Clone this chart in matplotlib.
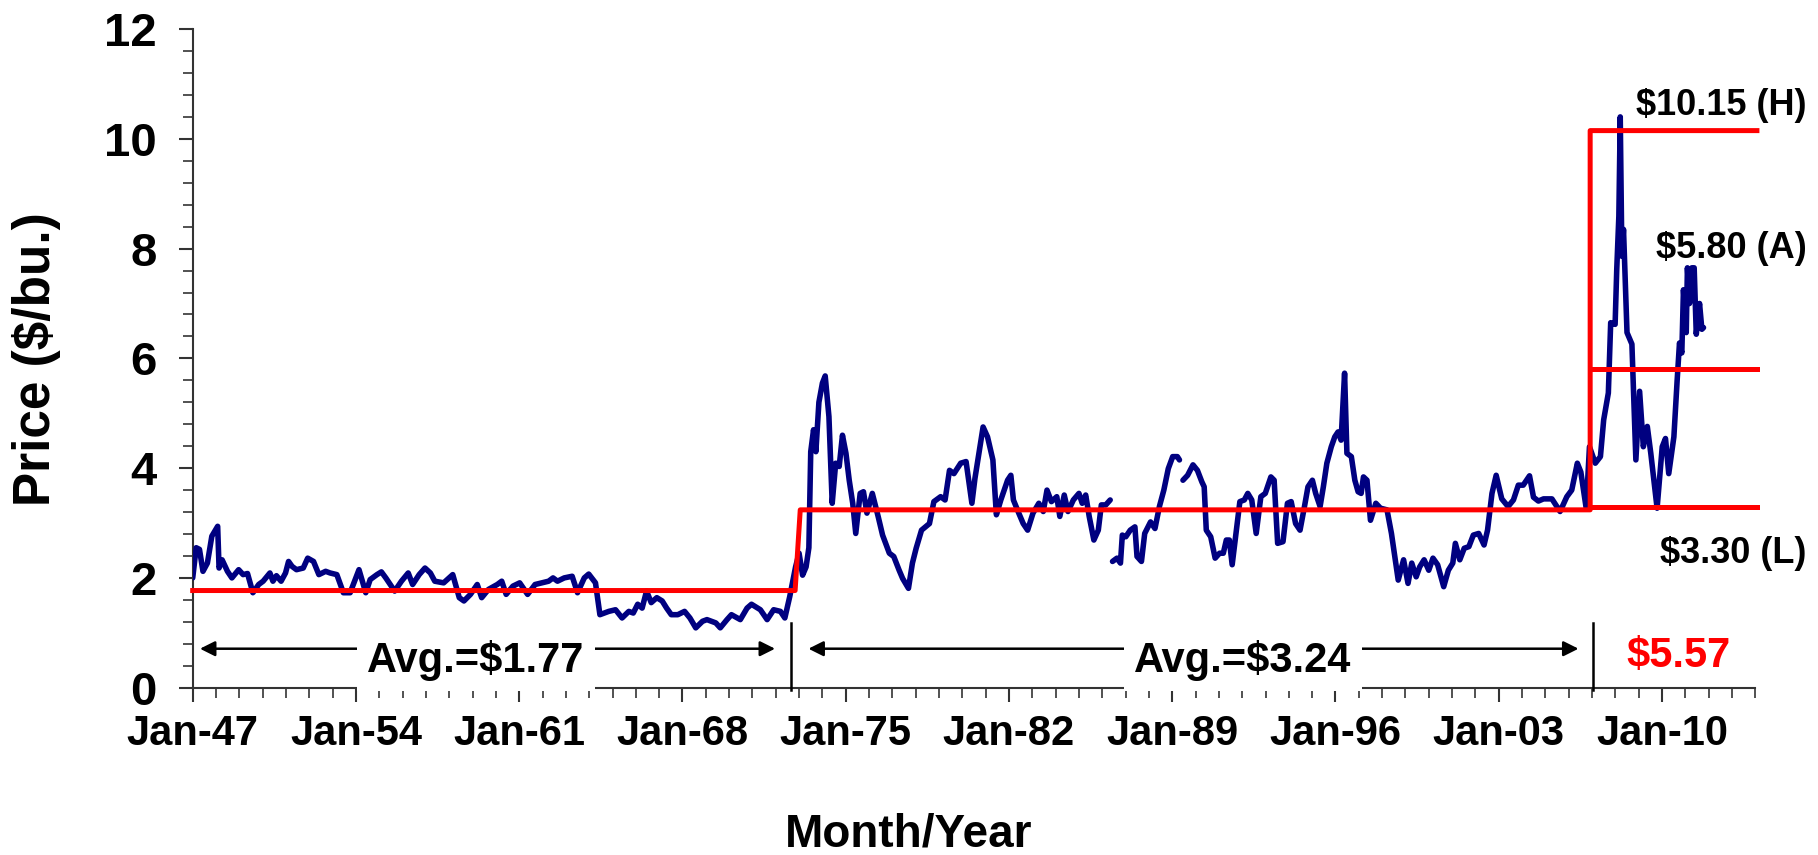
import matplotlib
matplotlib.use("Agg")
import matplotlib.pyplot as plt
import numpy as np
from matplotlib.ticker import FixedLocator, MultipleLocator

# Monthly price (decimal year, $/bu.); nan = gap in the line
years = [
    1947.00, 1947.15, 1947.29, 1947.44, 1947.63, 1947.82, 1948.07, 1948.13, 1948.26, 1948.49,
    1948.68, 1948.97, 1949.16, 1949.35, 1949.58, 1949.83, 1950.02, 1950.31, 1950.44, 1950.59,
    1950.79, 1950.98, 1951.11, 1951.26, 1951.45, 1951.74, 1951.93, 1952.18, 1952.41, 1952.70,
    1952.89, 1953.18, 1953.46, 1953.75, 1953.94, 1954.13, 1954.42, 1954.61, 1954.90, 1955.09,
    1955.28, 1955.66, 1955.95, 1956.24, 1956.43, 1956.71, 1956.96, 1957.19, 1957.38, 1957.76,
    1958.15, 1958.43, 1958.63, 1958.91, 1959.20, 1959.39, 1959.68, 1960.06, 1960.25, 1960.44,
    1960.73, 1961.02, 1961.36, 1961.68, 1961.97, 1962.26, 1962.45, 1962.64, 1962.93, 1963.27,
    1963.50, 1963.79, 1963.98, 1964.27, 1964.46, 1964.84, 1965.13, 1965.41, 1965.70, 1965.89,
    1966.08, 1966.27, 1966.46, 1966.66, 1966.90, 1967.13, 1967.32, 1967.52, 1967.80, 1968.09,
    1968.32, 1968.57, 1968.86, 1969.05, 1969.43, 1969.62, 1969.91, 1970.10, 1970.48, 1970.77,
    1970.96, 1971.34, 1971.63, 1971.91, 1972.20, 1972.39, 1972.60, 1972.85, 1973.00, 1973.15,
    1973.30, 1973.42, 1973.50, 1973.62, 1973.72, 1973.85, 1974.00, 1974.12, 1974.28, 1974.42,
    1974.57, 1974.72, 1974.86, 1975.01, 1975.15, 1975.30, 1975.43, 1975.62, 1975.76, 1975.91,
    1976.14, 1976.39, 1976.58, 1976.87, 1977.06, 1977.29, 1977.44, 1977.69, 1977.86, 1978.02,
    1978.25, 1978.59, 1978.78, 1979.07, 1979.26, 1979.45, 1979.64, 1979.93, 1980.16, 1980.41,
    1980.54, 1980.89, 1981.08, 1981.31, 1981.46, 1981.65, 1981.94, 1982.08, 1982.19, 1982.42,
    1982.61, 1982.80, 1983.03, 1983.28, 1983.47, 1983.63, 1983.82, 1984.05, 1984.18, 1984.37,
    1984.53, 1984.76, 1985.00, 1985.14, 1985.29, 1985.44, 1985.64, 1985.83, 1985.96, 1986.15,
    1986.34, 1986.39, 1986.44, 1986.63, 1986.78, 1986.86, 1987.01, 1987.20, 1987.40, 1987.49,
    1987.68, 1987.82, 1988.07, 1988.26, 1988.45, 1988.64, 1988.83, 1989.02, 1989.22, 1989.31,
    1989.38, 1989.46, 1989.66, 1989.89, 1990.08, 1990.27, 1990.37, 1990.46, 1990.65, 1990.84,
    1991.03, 1991.19, 1991.32, 1991.45, 1991.57, 1991.70, 1991.90, 1992.09, 1992.24, 1992.41,
    1992.60, 1992.80, 1992.99, 1993.23, 1993.37, 1993.52, 1993.75, 1993.94, 1994.10, 1994.29,
    1994.48, 1994.67, 1994.82, 1995.01, 1995.15, 1995.34, 1995.48, 1995.63, 1995.82, 1995.97,
    1996.11, 1996.24, 1996.39, 1996.49, 1996.68, 1996.83, 1996.97, 1997.10, 1997.20, 1997.35,
    1997.50, 1997.73, 1997.93, 1998.21, 1998.40, 1998.69, 1998.92, 1999.11, 1999.27, 1999.46,
    1999.61, 1999.80, 2000.00, 2000.18, 2000.38, 2000.64, 2000.84, 2001.03, 2001.14, 2001.33,
    2001.52, 2001.72, 2001.91, 2002.14, 2002.37, 2002.52, 2002.71, 2002.89, 2003.13, 2003.40,
    2003.63, 2003.84, 2004.05, 2004.32, 2004.49, 2004.70, 2004.92, 2005.28, 2005.63, 2005.92,
    2006.13, 2006.37, 2006.52, 2006.75, 2006.89, 2007.14, 2007.36, 2007.50, 2007.70, 2007.80,
    2007.99, 2008.06, 2008.15, 2008.21, 2008.28, 2008.35, 2008.50, 2008.71, 2008.88, 2009.04,
    2009.20, 2009.37, 2009.52, 2009.79, 2010.01, 2010.15, 2010.29, 2010.51, 2010.65, 2010.75,
    2010.85, 2010.92, 2011.04, 2011.09, 2011.18, 2011.28, 2011.38, 2011.47, 2011.61, 2011.71,
    2011.78,
]
prices = [
    2.00, 2.55, 2.52, 2.12, 2.27, 2.76, 2.94, 2.18, 2.33, 2.12,
    2.00, 2.15, 2.06, 2.08, 1.73, 1.88, 1.94, 2.09, 1.94, 2.04,
    1.94, 2.09, 2.30, 2.21, 2.15, 2.18, 2.36, 2.30, 2.06, 2.12,
    2.09, 2.06, 1.73, 1.73, 1.94, 2.15, 1.73, 1.97, 2.06, 2.11,
    2.00, 1.76, 1.94, 2.09, 1.88, 2.06, 2.18, 2.09, 1.94, 1.91,
    2.06, 1.64, 1.58, 1.70, 1.88, 1.64, 1.79, 1.88, 1.94, 1.70,
    1.85, 1.91, 1.70, 1.88, 1.91, 1.94, 2.00, 1.94, 2.00, 2.03,
    1.73, 2.00, 2.07, 1.91, 1.33, 1.39, 1.42, 1.27, 1.39, 1.36,
    1.52, 1.45, 1.76, 1.55, 1.64, 1.58, 1.45, 1.33, 1.33, 1.39,
    1.27, 1.09, 1.21, 1.24, 1.18, 1.09, 1.24, 1.33, 1.24, 1.45,
    1.52, 1.42, 1.24, 1.42, 1.39, 1.27, 1.66, 2.20, 2.45, 2.05,
    2.20, 2.55, 4.30, 4.70, 4.30, 5.20, 5.55, 5.68, 4.94, 3.36,
    4.09, 4.03, 4.60, 4.27, 3.78, 3.36, 2.81, 3.54, 3.57, 3.18,
    3.54, 3.12, 2.78, 2.45, 2.39, 2.14, 1.99, 1.81, 2.27, 2.54,
    2.87, 2.99, 3.39, 3.48, 3.42, 3.96, 3.90, 4.09, 4.12, 3.36,
    3.81, 4.75, 4.57, 4.15, 3.15, 3.42, 3.78, 3.87, 3.42, 3.18,
    2.99, 2.87, 3.18, 3.36, 3.21, 3.60, 3.39, 3.48, 3.12, 3.51,
    3.21, 3.42, 3.54, 3.36, 3.51, 3.12, 2.69, 2.87, 3.33, 3.33,
    3.42, np.nan, 2.30, 2.36, 2.27, 2.78, 2.75, 2.87, 2.93, 2.39,
    2.30, 2.81, 3.02, 2.90, 3.30, 3.60, 3.99, 4.21, 4.21, 4.15,
    np.nan, 3.78, 3.87, 4.06, 3.96, 3.75, 3.66, 2.87, 2.75, 2.36,
    2.45, 2.45, 2.69, 2.69, 2.24, 2.69, 3.39, 3.42, 3.54, 3.42,
    2.81, 3.48, 3.54, 3.84, 3.78, 2.63, 2.66, 3.36, 3.39, 2.99,
    2.87, 3.30, 3.66, 3.78, 3.54, 3.30, 3.66, 4.09, 4.39, 4.57,
    4.66, 4.51, 5.73, 4.27, 4.21, 3.78, 3.57, 3.54, 3.84, 3.78,
    3.05, 3.36, 3.27, 3.24, 2.81, 1.96, 2.33, 1.90, 2.27, 2.02,
    2.20, 2.33, 2.14, 2.36, 2.24, 1.84, 2.14, 2.27, 2.63, 2.33,
    2.54, 2.57, 2.78, 2.81, 2.60, 2.87, 3.54, 3.87, 3.44, 3.30,
    3.42, 3.69, 3.69, 3.86, 3.47, 3.40, 3.44, 3.44, 3.21, 3.48,
    3.60, 4.09, 3.93, 3.27, 4.39, 4.09, 4.21, 4.88, 5.37, 6.65,
    6.62, 7.62, 8.59, 10.40, 7.86, 8.35, 6.47, 6.26, 4.15, 5.40,
    4.39, 4.76, 4.27, 3.27, 4.39, 4.54, 3.90, 4.57, 5.60, 6.28,
    6.10, 7.25, 6.47, 7.65, 7.00, 7.65, 7.65, 6.44, 7.00, 6.53,
    6.56,
]

# Period averages / high / low drawn in red
period1 = (1947.0, 1972.83)
period2 = (1973.05, 2006.92)
period3_end = 2014.07
avg1, avg2 = 1.77, 3.24
high3, avg3, low3 = 10.15, 5.80, 3.30
breaks = [1972.64, 2007.06]

tick_years = list(range(1947, 2014, 7))
tick_labels = [f"Jan-{y % 100:02d}" for y in tick_years]

plt.rcParams["font.family"] = ["Liberation Sans", "DejaVu Sans"]
plt.rcParams["font.weight"] = "bold"

fig = plt.figure(figsize=(18.18, 8.55), dpi=100)
ax = fig.add_axes([0.106, 0.1957, 0.8595, 0.7703])

# price series
ax.plot(years, prices, color="#000080", lw=4.0, solid_joinstyle="round",
        solid_capstyle="round", zorder=3)

# red average / high / low lines
red_x = [period1[0], period1[1], period2[0], period2[1], period2[1], period3_end]
red_y = [avg1, avg1, avg2, avg2, high3, high3]
ax.plot(red_x, red_y, color="red", lw=3.6, zorder=4, clip_on=False)
ax.plot([period2[1], period3_end], [avg3, avg3], color="red", lw=3.6, zorder=4, clip_on=False)
ax.plot([period2[1], period3_end], [low3, low3], color="red", lw=3.6, zorder=4, clip_on=False)

# period separators
for b in breaks:
    ax.plot([b, b], [-0.05, 1.17], color="black", lw=1.8, clip_on=False, zorder=5)

# double arrows with average labels
arrow_y = 0.71
arrow_kw = dict(arrowstyle="<|-|>,head_length=0.9,head_width=0.45", color="black", lw=1.8,
                shrinkA=0, shrinkB=0)
ax.annotate("", xy=(1947.31, arrow_y), xytext=(1971.97, arrow_y), arrowprops=arrow_kw)
ax.annotate("", xy=(1973.40, arrow_y), xytext=(2006.42, arrow_y), arrowprops=arrow_kw)
box = dict(boxstyle="square,pad=0.25", fc="white", ec="none")
ax.text(1959.15, 0.50, "Avg.=$1.77", fontsize=30, ha="center", va="center", bbox=box, zorder=6)
ax.text(1992.02, 0.50, "Avg.=$3.24", fontsize=30, ha="center", va="center", bbox=box, zorder=6)
ax.text(2010.7, 0.58, "$5.57", fontsize=30, color="red", ha="center", va="center")

# high / average / low labels
ax.text(2016.2, 10.6, "$10.15 (H)", fontsize=26, ha="right", va="center")
ax.text(2016.2, 8.0, "$5.80 (A)", fontsize=26, ha="right", va="center")
ax.text(2016.2, 2.45, "$3.30 (L)", fontsize=26, ha="right", va="center")

# axes styling
ax.set_xlim(1947, 2014)
ax.set_ylim(0, 12)
ax.xaxis.set_major_locator(FixedLocator(tick_years))
ax.set_xticklabels(tick_labels)
ax.xaxis.set_minor_locator(MultipleLocator(1))
ax.yaxis.set_major_locator(MultipleLocator(2))
ax.yaxis.set_minor_locator(MultipleLocator(0.4))
for side in ("top", "right"):
    ax.spines[side].set_visible(False)
for side in ("left", "bottom"):
    ax.spines[side].set_linewidth(1.5)
    ax.spines[side].set_color("#333333")
ax.tick_params(which="major", direction="out", length=10, width=1.5, color="#333333",
               labelsize=30, pad=9)
ax.tick_params(which="minor", direction="out", length=7, width=1.2, color="#333333")
ax.tick_params(axis="y", pad=16, labelsize=34)

fig.text(0.50, 0.024, "Month/Year", fontsize=33, ha="center", va="center")
fig.text(0.02, 0.58, "Price ($/bu.)", fontsize=37, ha="center", va="center", rotation=90)

fig.savefig("out.png", dpi=100)
